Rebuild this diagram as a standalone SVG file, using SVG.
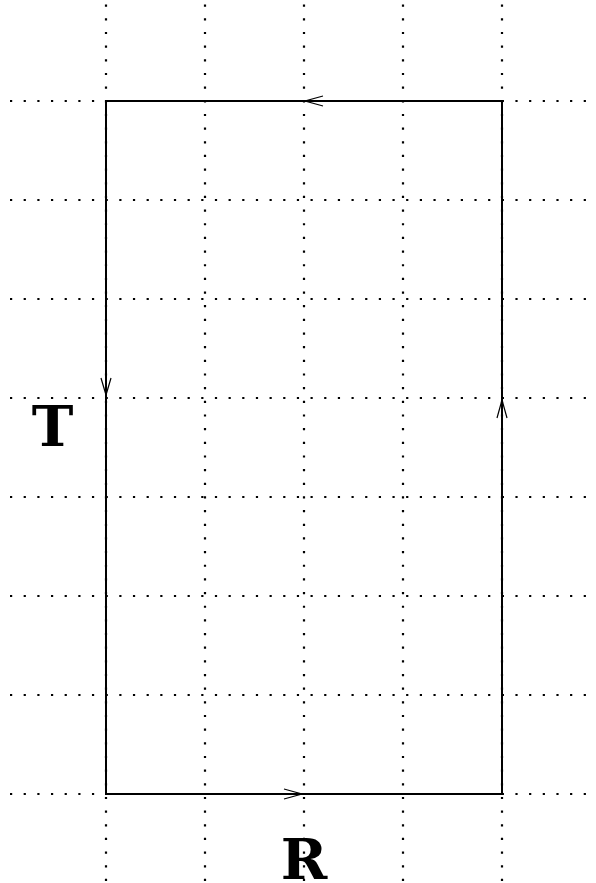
<svg xmlns="http://www.w3.org/2000/svg" width="596" height="883" viewBox="0 0 596 883">
<style>
.grid{stroke:#000;stroke-width:2.2;stroke-dasharray:2.2 11.46;fill:none}
.edge{stroke:#000;stroke-width:2;fill:none}
.arr{stroke:#000;stroke-width:1.2;fill:none}
.lbl{font-family:"DejaVu Serif","Liberation Serif",serif;font-weight:bold;font-size:56px;fill:#000;text-anchor:middle}
</style>
<rect width="596" height="883" fill="#fff"/>
<g id="grid">
<path class="grid" d="M10 101H592M10 200H592M10 299H592M10 398H592M10 497H592M10 596H592M10 695H592M10 794H592"/>
<path class="grid" d="M106 4.6V883M205 4.6V883M304 4.6V883M403 4.6V883M502 4.6V883"/>
</g>
<g id="connectors">
<path class="edge" d="M106 101H502V794H106Z"/>
<path class="arr" d="M323 96L305 101L323 106"/>
<path class="arr" d="M101 378L106 395L111 378"/>
<path class="arr" d="M497 418L502 400L507 418"/>
<path class="arr" d="M284 789L302 794L284 799"/>
</g>
<g id="T"><text class="lbl" x="52.5" y="446">T</text></g>
<g id="R"><text class="lbl" x="304" y="879">R</text></g>
</svg>
